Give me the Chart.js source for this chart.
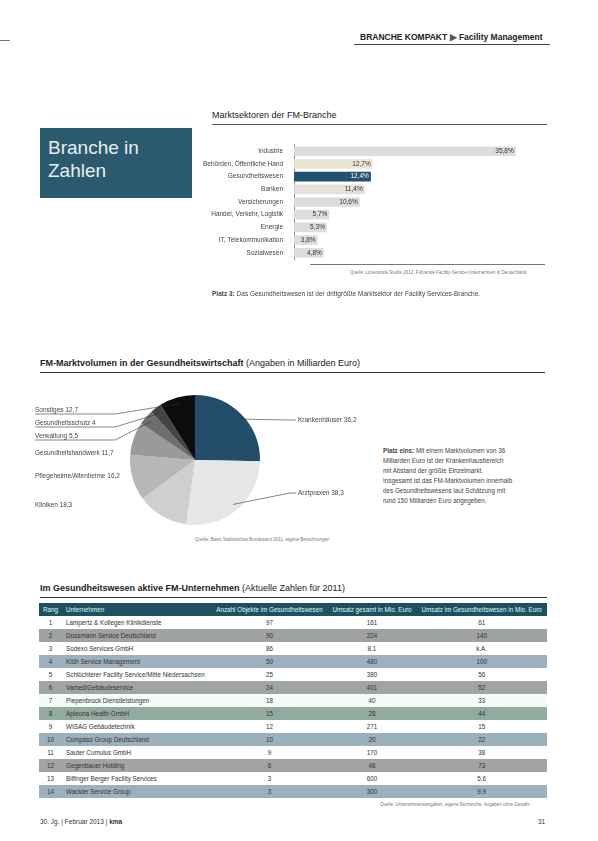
<!DOCTYPE html>
<html><head><meta charset="utf-8">
<script src="https://cdn.jsdelivr.net/npm/chart.js@4/dist/chart.umd.min.js"></script>
<style>
body{margin:0;width:598px;height:841px;position:relative;background:#fff;font-family:"Liberation Sans Narrow","Liberation Sans",Arial,sans-serif;color:#333;overflow:hidden}
.abs{position:absolute}
.t{font-size:9px}
table{border-collapse:collapse;font-size:6.3px;color:#333}
td,th{padding:0 4px;height:13px;line-height:13px;white-space:nowrap}
th{background:#1f4f63;color:#dfe;font-weight:normal;text-align:center}
</style></head><body>
<div class="abs" style="left:0;top:40px;width:10px;height:1px;background:#777"></div>
<div class="abs" style="left:360px;top:32px;font-size:8.5px;font-weight:bold;color:#222">BRANCHE KOMPAKT <span style="color:#555">&#9654;</span> Facility Management</div>
<div class="abs" style="left:354px;top:44px;width:196px;height:1px;background:#444"></div>

<div class="abs" style="left:40px;top:128px;width:152px;height:70px;background:#2b5a6e;color:#e8eef0;font-size:19px;line-height:23px;padding:8px 0 0 8px;box-sizing:border-box">Branche in<br>Zahlen</div>

<div class="abs t" style="left:212px;top:110px;color:#222">Marktsektoren der FM-Branche</div>
<div class="abs" style="left:212px;top:124px;width:335px;height:1px;background:#555"></div>
<div class="abs" style="left:200px;top:138px;width:345px;height:128px"><canvas id="bar"></canvas></div>
<div class="abs" style="left:310px;top:264px;width:235px;height:1px;background:#777"></div>
<div class="abs" style="left:350px;top:270px;font-size:4.5px;color:#777">Quelle: Lünendonk-Studie 2012: Führende Facility-Service-Unternehmen in Deutschland</div>
<div class="abs" style="left:212px;top:290px;font-size:6.5px;color:#444"><b>Platz 3:</b> Das Gesundheitswesen ist der drittgrößte Marktsektor der Facility Services-Branche.</div>

<div class="abs t" style="left:40px;top:358px;color:#222"><b>FM-Marktvolumen in der Gesundheitswirtschaft</b> (Angaben in Milliarden Euro)</div>
<div class="abs" style="left:40px;top:372px;width:505px;height:1px;background:#333"></div>
<div class="abs" style="left:30px;top:385px;width:330px;height:150px"><canvas id="pie"></canvas></div>
<div class="abs" style="left:383px;top:446px;width:130px;font-size:6.3px;line-height:10px;color:#444"><b>Platz eins:</b> Mit einem Marktvolumen von 36 Milliarden Euro ist der Krankenhausbereich mit Abstand der größte Einzelmarkt. Insgesamt ist das FM-Marktvolumen innerhalb des Gesundheitswesens laut Schätzung mit rund 150 Milliarden Euro angegeben.</div>
<div class="abs" style="left:195px;top:537px;font-size:4.5px;color:#777">Quelle: Basis Statistisches Bundesamt 2011, eigene Berechnungen</div>

<div class="abs t" style="left:40px;top:583px;color:#222"><b>Im Gesundheitswesen aktive FM-Unternehmen</b> (Aktuelle Zahlen für 2011)</div>
<div class="abs" style="left:40px;top:597px;width:507px;height:1px;background:#333"></div>
<div class="abs" style="left:39px;top:603px;width:508px"><table id="tbl" style="width:508px"></table></div>
<div class="abs" style="left:380px;top:802px;font-size:4.5px;color:#777">Quelle: Unternehmensangaben, eigene Recherche, Angaben ohne Gewähr</div>
<div class="abs" style="left:40px;top:818px;font-size:6.5px;color:#333">30. Jg. | Februar 2013 | <b>kma</b></div>
<div class="abs" style="left:538px;top:818px;font-size:6.5px;color:#333">31</div>

<script>
const sectorLabels=["Industrie","Behörden, Öffentliche Hand","Gesundheitswesen","Banken","Versicherungen","Handel, Verkehr, Logistik","Energie","IT, Telekommunikation","Sozialwesen"];
const sectorValues=[35.8,12.7,12.4,11.4,10.6,5.7,5.3,3.8,4.8];
const sectorColors=["#dcdcdc","#ebe6d2","#23506f","#e6dfdb","#dddddd","#dddddd","#dddddd","#dddddd","#dddddd"];

const pieLabels=["Krankenhäuser","Arztpraxen","Kliniken","Pflegeheime/Altenheime","Gesundheitshandwerk","Verwaltung","Gesundheitsschutz","Sonstiges"];
const pieValues=[36.2,38.3,18.3,16.2,11.7,5.5,4.0,12.7];
const pieColors=["#244d6a","#e6e6e6","#cfcfcf","#b7b7b7","#9a9a9a","#6e6e6e","#444444","#0d0d0d"];

const tblHead=["Rang","Unternehmen","Anzahl Objekte im Gesundheitswesen","Umsatz gesamt in Mio. Euro","Umsatz im Gesundheitswesen in Mio. Euro"];
const tblRank=["1","2","3","4","5","6","7","8","9","10","11","12","13","14"];
const tblCompany=["Lampertz & Kollegen Klinikdienste","Dussmann Service Deutschland","Sodexo Services GmbH","Klüh Service Management","Schlüchterer Facility Service/Mitte Niedersachsen","Vamed/Gebäudeservice","Piepenbrock Dienstleistungen","Apleona Health GmbH","WISAG Gebäudetechnik","Compass Group Deutschland","Sauter Cumulus GmbH","Gegenbauer Holding","Bilfinger Berger Facility Services","Wackler Service Group"];
const tblObjects=["97","90","86","50","25","24","18","15","12","10","9","6","3","3"];
const tblTotal=["161","224","8.1","480","380","401","40","28","271","20","170","48","600","300"];
const tblHealth=["61","140","k.A.","100","56","52","33","44","15","22","38","73","5.6","9.9"];
const rowColors=["#fff","#9ea3a1","#fff","#9eb0bd","#fff","#a0a5a2","#f3fbfb","#93ab9f","#fff","#9cafbd","#fff","#a1a4a2","#fff","#9cb0bf"];

const tb=document.getElementById('tbl');
let h='<tr>'+tblHead.map((x,i)=>`<th style="text-align:${i<2?'left':'center'}">${x}</th>`).join('')+'</tr>';
tblRank.forEach((r,i)=>{h+=`<tr style="background:${rowColors[i]}"><td style="text-align:center;width:14px">${r}</td><td>${tblCompany[i]}</td><td style="text-align:center">${tblObjects[i]}</td><td style="text-align:center">${tblTotal[i]}</td><td style="text-align:center">${tblHealth[i]}</td></tr>`});
tb.innerHTML=h;

Chart.defaults.font.family='"Liberation Sans Narrow","Liberation Sans",Arial,sans-serif';
Chart.defaults.color='#333';

const barLabelPlugin={id:'bl',afterDatasetsDraw(c){const ctx=c.ctx;const m=c.getDatasetMeta(0);ctx.save();ctx.font='6.5px "Liberation Sans Narrow",sans-serif';ctx.textAlign='right';ctx.textBaseline='middle';
m.data.forEach((b,i)=>{ctx.fillStyle=i===2?'#fff':'#333';ctx.fillText(String(sectorValues[i]).replace('.',',')+'%',b.x-2,b.y);});ctx.restore();}};
new Chart(document.getElementById('bar'),{type:'bar',data:{labels:sectorLabels,datasets:[{data:sectorValues,backgroundColor:sectorColors,barPercentage:0.8,categoryPercentage:0.95}]},
options:{indexAxis:'y',responsive:true,maintainAspectRatio:false,animation:false,layout:{padding:{top:6,bottom:6,right:28}},plugins:{legend:{display:false},tooltip:{enabled:false}},
scales:{x:{display:false,min:0,max:36},y:{grid:{display:false},border:{color:'#888'},ticks:{font:{size:6.5},color:'#444',padding:3}}}},plugins:[barLabelPlugin]});

const pieLabelPlugin={id:'pl',afterDatasetsDraw(c){const ctx=c.ctx;const m=c.getDatasetMeta(0);ctx.save();ctx.font='6.5px "Liberation Sans Narrow",sans-serif';ctx.textBaseline='middle';ctx.strokeStyle='#333';ctx.lineWidth=0.6;
const leftY={2:92,3:63,4:40,5:23,6:10,7:-3};
m.data.forEach((a,i)=>{const mid=(a.startAngle+a.endAngle)/2;const r=a.outerRadius;const px=a.x+Math.cos(mid)*r*0.9,py=a.y+Math.sin(mid)*r*0.9;
const txt=pieLabels[i]+' '+String(pieValues[i]).replace('.',',');ctx.fillStyle='#444';
if(i<2){const ty=i===0?a.y-40:a.y+33;ctx.beginPath();ctx.moveTo(px,py);ctx.lineTo(a.x+r+30,ty);ctx.lineTo(a.x+r+36,ty);ctx.stroke();ctx.textAlign='left';ctx.fillText(txt,a.x+r+38,ty);}
else{const ty=a.y-55+leftY[i]+8;ctx.textAlign='left';ctx.fillText(txt,5,ty);if(i>=5){ctx.beginPath();ctx.moveTo(px,py);ctx.lineTo(85,ty+4);ctx.lineTo(5,ty+4);ctx.stroke();}}});ctx.restore();}};
new Chart(document.getElementById('pie'),{type:'pie',data:{labels:pieLabels,datasets:[{data:pieValues,backgroundColor:pieColors,borderWidth:0}]},
options:{responsive:true,maintainAspectRatio:false,animation:false,layout:{padding:{left:100,right:100,top:6,bottom:6}},plugins:{legend:{display:false},tooltip:{enabled:false}}},plugins:[pieLabelPlugin]});
</script></body></html>
